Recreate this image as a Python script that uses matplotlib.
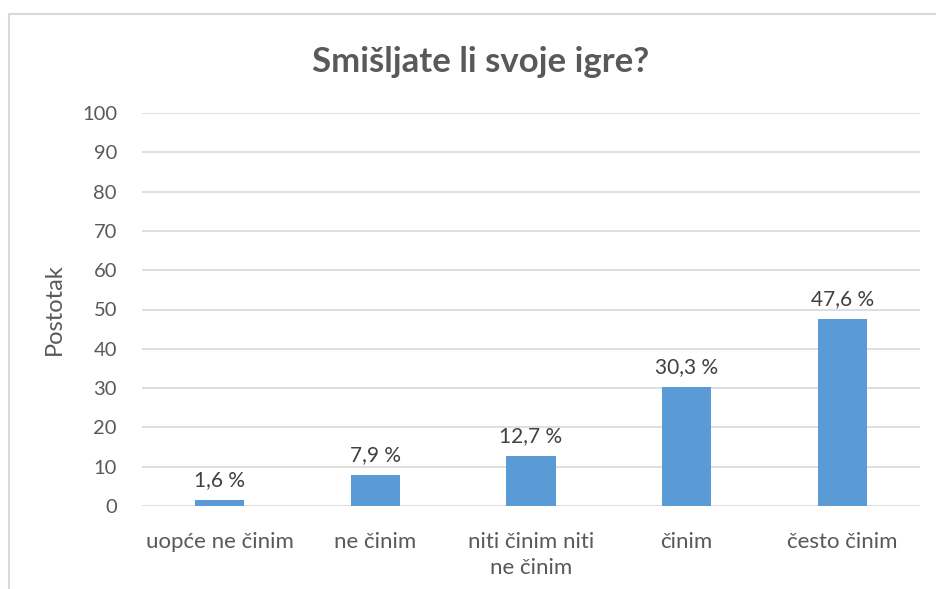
import matplotlib.pyplot as plt
from matplotlib.patches import Rectangle

categories = ['uopće ne činim', 'ne činim', 'niti činim niti\nne činim', 'činim', 'često činim']
values = [1.6, 7.9, 12.7, 30.3, 47.6]
labels = ['1,6 %', '7,9 %', '12,7 %', '30,3 %', '47,6 %']

plt.rcParams['font.family'] = ['Lato', 'DejaVu Sans']
txt = '#595959'

fig = plt.figure(figsize=(9.37, 5.89), dpi=100)
ax = fig.add_axes([142/937, 83/589, 778/937, 393/589])

# okvir grafikona
fig.patches.append(Rectangle((9/937, -0.1), 1.2, (589-14)/589 + 0.1, transform=fig.transFigure,
                             fill=False, edgecolor='#d9d9d9', lw=1.5))

x = range(len(categories))
ax.bar(x, values, width=0.315, color='#5b9bd5', zorder=3)
for xi, v, lab in zip(x, values, labels):
    ax.text(xi, v + 2.5, lab, ha='center', va='bottom', fontsize=15, color='#404040')

ax.set_xlim(-0.5, 4.5)
ax.set_ylim(0, 100)
ax.set_yticks(range(0, 101, 10))
ax.set_xticks(list(x))
ax.set_xticklabels(categories, fontsize=16, color=txt, linespacing=1.35)
ax.tick_params(axis='y', labelsize=14.5, labelcolor=txt, length=0, pad=18)
ax.tick_params(axis='x', length=0, pad=19)
ax.grid(axis='y', color='#d9d9d9', lw=1.2, zorder=0)
for s in ax.spines.values():
    s.set_visible(False)
ax.set_ylabel('Postotak', fontsize=17, color=txt, labelpad=12)

fig.text(481/937, 1 - 62/589, 'Smišljate li svoje igre?', ha='center', va='center',
         fontsize=25, fontweight='bold', color=txt)

fig.savefig('out.png', dpi=100)
